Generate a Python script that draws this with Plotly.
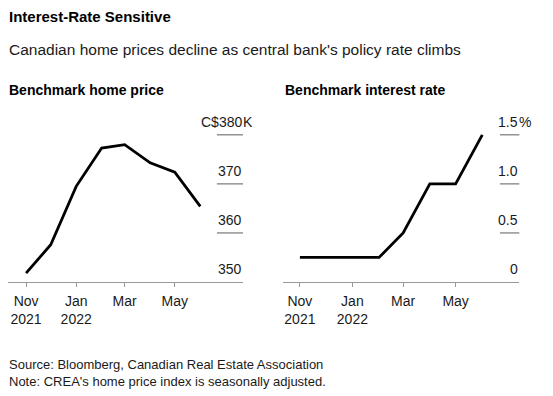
import plotly.graph_objects as go

# ---- data ----
months = ["2021-11-01", "2021-12-01", "2022-01-01", "2022-02-01",
          "2022-03-01", "2022-04-01", "2022-05-01", "2022-06-01"]
home_price = [351.8, 357.6, 369.5, 377.3, 378.0, 374.3, 372.4, 365.4]  # C$ thousands
policy_rate = [0.25, 0.25, 0.25, 0.25, 0.5, 1.0, 1.0, 1.5]            # %

x_tick_vals = ["2021-11-01", "2022-01-01", "2022-03-01", "2022-05-01"]
x_tick_text = ["Nov<br>2021", "Jan<br>2022", "Mar", "May"]

price_ticks = [350, 360, 370, 380]
price_tick_text = ["350", "360", "370", "C$380"]
price_suffix = "K"
rate_ticks = [0, 0.5, 1.0, 1.5]
rate_tick_text = ["0", "0.5", "1.0", "1.5"]
rate_suffix = "%"

W, H = 553, 396
OFF = 8  # page body margin
FONT = "Liberation Sans, Arial, sans-serif"
TXT = "#1a1a1a"
GRAY = "#777777"


def px_x(p):
    return (p - OFF) / W


def px_y(p):
    return 1 - (p - OFF) / H


fig = go.Figure()
fig.add_trace(go.Scatter(x=months, y=home_price, mode="lines",
                         line=dict(color="black", width=2.8),
                         xaxis="x", yaxis="y", hoverinfo="skip"))
fig.add_trace(go.Scatter(x=months, y=policy_rate, mode="lines",
                         line=dict(color="black", width=2.8),
                         xaxis="x2", yaxis="y2", hoverinfo="skip"))

xcommon = dict(type="date", tickmode="array", tickvals=x_tick_vals, ticktext=x_tick_text,
               showline=True, linecolor="#999999", linewidth=1, ticks="outside",
               tickcolor="#999999", ticklen=4, tickwidth=1, showgrid=False, zeroline=False,
               ticklabelstandoff=2,
               tickfont=dict(family=FONT, size=14, color=TXT), fixedrange=True)
ydom = [px_y(282), px_y(125)]

fig.update_layout(
    width=W, height=H, margin=dict(l=0, r=0, t=0, b=0),
    paper_bgcolor="white", plot_bgcolor="white", showlegend=False,
    xaxis=dict(domain=[px_x(8), px_x(243)], range=["2021-10-10", "2022-07-23"], anchor="y", **xcommon),
    xaxis2=dict(domain=[px_x(282.7), px_x(519.3)], range=["2021-10-12", "2022-07-14"], anchor="y2", **xcommon),
    yaxis=dict(domain=ydom, range=[350, 382], visible=False, anchor="x", fixedrange=True),
    yaxis2=dict(domain=ydom, range=[0, 1.6], visible=False, anchor="x2", fixedrange=True),
)

annotations = []
shapes = []


def add_y_labels(ticks, texts, suffix, xref, yref, line_x0):
    for i, (v, t) in enumerate(zip(ticks, texts)):
        annotations.append(dict(x=1, y=v, xref=xref, yref=yref, text=t, showarrow=False,
                                xanchor="right", yanchor="bottom", yshift=3, xshift=1,
                                font=dict(family=FONT, size=14, color=TXT)))
        if i == len(ticks) - 1:
            annotations.append(dict(x=1, y=v, xref=xref, yref=yref, text=suffix, showarrow=False,
                                    xanchor="left", yanchor="bottom", yshift=3, xshift=-2,
                                    font=dict(family=FONT, size=14, color=TXT)))
        if i > 0:
            shapes.append(dict(type="line", xref=xref, yref=yref, x0=line_x0, x1=1, y0=v, y1=v,
                               line=dict(color=GRAY, width=1.2)))


add_y_labels(price_ticks, price_tick_text, price_suffix, "x domain", "y", 0.889)
add_y_labels(rate_ticks, rate_tick_text, rate_suffix, "x2 domain", "y2", 0.918)

# Titles and notes
annotations += [
    dict(x=px_x(7), y=px_y(17), xref="paper", yref="paper", text="<b>Interest-Rate Sensitive</b>",
         showarrow=False, xanchor="left", yanchor="middle",
         font=dict(family=FONT, size=15, color="black")),
    dict(x=px_x(7), y=px_y(49), xref="paper", yref="paper",
         text="Canadian home prices decline as central bank's policy rate climbs",
         showarrow=False, xanchor="left", yanchor="middle",
         font=dict(family=FONT, size=15.5, color=TXT)),
    dict(x=px_x(7), y=px_y(90), xref="paper", yref="paper", text="<b>Benchmark home price</b>",
         showarrow=False, xanchor="left", yanchor="middle",
         font=dict(family=FONT, size=14, color="black")),
    dict(x=px_x(283), y=px_y(90), xref="paper", yref="paper", text="<b>Benchmark interest rate</b>",
         showarrow=False, xanchor="left", yanchor="middle",
         font=dict(family=FONT, size=14, color="black")),
    dict(x=px_x(7), y=px_y(372.5), xref="paper", yref="paper",
         text="Source: Bloomberg, Canadian Real Estate Association<br>Note: CREA's home price index is seasonally adjusted.",
         showarrow=False, xanchor="left", yanchor="middle", align="left",
         font=dict(family=FONT, size=13, color=TXT)),
]

# scrollbar-like gray bar at right edge
shapes.append(dict(type="rect", xref="paper", yref="paper", x0=px_x(549), x1=px_x(553),
                   y0=px_y(93), y1=px_y(53), fillcolor="#cccccc", line=dict(width=0)))

fig.update_layout(annotations=annotations, shapes=shapes)
fig.write_html("out.html")
